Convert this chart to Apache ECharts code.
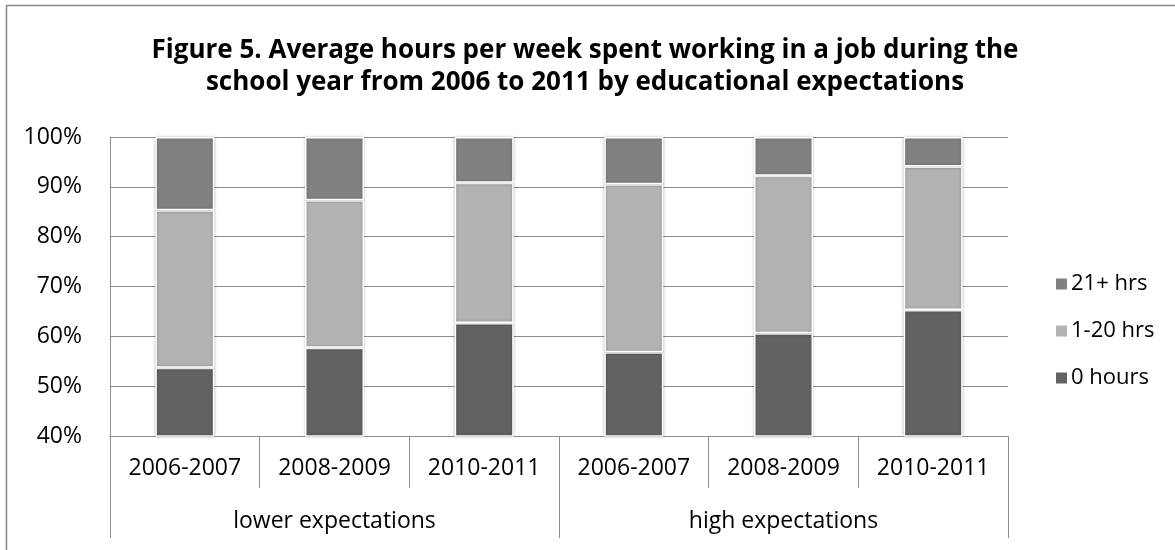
<!DOCTYPE html>
<html>
<head>
<meta charset="utf-8">
<script src="https://cdn.jsdelivr.net/npm/echarts@6/dist/echarts.min.js"></script>
<style>
  html, body { margin: 0; padding: 0; background: #fff; }
  #chart { width: 1175px; height: 550px; }
</style>
</head>
<body>
<div id="chart"></div>
<script>
// School-year periods, grouped by educational expectations
const periods = ['2006-2007', '2008-2009', '2010-2011', '2006-2007', '2008-2009', '2010-2011'];
const groups = ['lower expectations', 'high expectations'];

// Share of students (%) by weekly hours worked
const zeroHours = [53.7, 57.7, 62.7, 56.8, 60.6, 65.3];
const oneToTwenty = [31.6, 29.6, 28.1, 33.7, 31.6, 28.8];
const twentyOnePlus = [14.7, 12.7, 9.2, 9.5, 7.8, 5.9];

const yTicks = { min: 40, max: 100, interval: 10 };

const FONT = 'Open Sans';
const axisGrey = '#8c8c8c';

const barStyle = (color) => ({
  color: color,
  borderColor: '#ffffff',
  borderWidth: 1.5,
  shadowBlur: 3,
  shadowColor: 'rgba(0,0,0,0.25)'
});

const chart = echarts.init(document.getElementById('chart'), null, { renderer: 'canvas' });

chart.setOption({
  animation: false,
  backgroundColor: '#ffffff',
  textStyle: { fontFamily: FONT },
  title: {
    text: 'Figure 5. Average hours per week spent working in a job during the\nschool year from 2006 to 2011 by educational expectations',
    left: 580,
    textAlign: 'center',
    top: 30,
    textStyle: {
      fontFamily: FONT,
      fontWeight: 'bold',
      fontSize: 26,
      lineHeight: 32,
      color: '#000'
    }
  },
  graphic: [
    {
      type: 'polyline',
      shape: { points: [[6.5, 552], [6.5, 5.5], [1180, 5.5]] },
      style: { stroke: '#888', lineWidth: 1.5, fill: null },
      silent: true
    }
  ],
  legend: {
    orient: 'vertical',
    left: 1049,
    top: 268,
    itemGap: 25,
    itemWidth: 13,
    itemHeight: 13,
    icon: 'rect',
    data: ['21+ hrs', '1-20 hrs', '0 hours'],
    textStyle: { fontFamily: FONT, fontSize: 22, color: '#000', padding: [0, 0, 0, -2] }
  },
  grid: {
    left: 110,
    right: 167,
    top: 137,
    bottom: 114,
    containLabel: false
  },
  xAxis: [
    {
      type: 'category',
      data: periods,
      position: 'bottom',
      offset: 0,
      axisLine: { show: true, lineStyle: { color: axisGrey, width: 1 } },
      axisTick: { show: true, length: 52, lineStyle: { color: axisGrey, width: 1 } },
      axisLabel: { margin: 21, fontFamily: FONT, fontSize: 23, color: '#000' },
      splitLine: { show: false }
    },
    {
      type: 'category',
      data: groups,
      position: 'bottom',
      offset: 0,
      axisLine: { show: false },
      axisTick: { show: true, length: 102, lineStyle: { color: axisGrey, width: 1 } },
      axisLabel: { margin: 74, fontFamily: FONT, fontSize: 23, color: '#000' },
      splitLine: { show: false }
    }
  ],
  yAxis: {
    type: 'value',
    min: yTicks.min,
    max: yTicks.max,
    interval: yTicks.interval,
    axisLine: { show: true, lineStyle: { color: axisGrey, width: 1 } },
    axisTick: { show: false },
    axisLabel: { margin: 28, fontFamily: FONT, fontSize: 23, color: '#000', formatter: '{value}%' },
    splitLine: { show: true, lineStyle: { color: axisGrey, width: 1 } }
  },
  series: [
    {
      name: '0 hours',
      type: 'bar',
      stack: 'share',
      xAxisIndex: 0,
      barWidth: 59,
      data: zeroHours,
      itemStyle: barStyle('#626262')
    },
    {
      name: '1-20 hrs',
      type: 'bar',
      stack: 'share',
      xAxisIndex: 0,
      barWidth: 59,
      data: oneToTwenty,
      itemStyle: barStyle('#b3b3b3')
    },
    {
      name: '21+ hrs',
      type: 'bar',
      stack: 'share',
      xAxisIndex: 0,
      barWidth: 59,
      data: twentyOnePlus,
      itemStyle: barStyle('#818181')
    }
  ]
});
</script>
</body>
</html>
